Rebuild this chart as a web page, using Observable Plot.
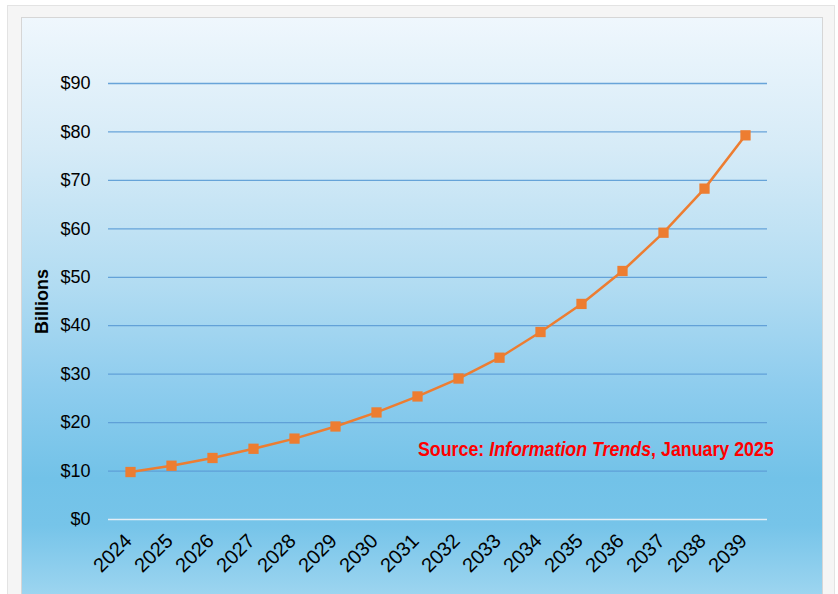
<!DOCTYPE html>
<html>
<head>
<meta charset="utf-8">
<script src="https://cdn.jsdelivr.net/npm/d3@7"></script>
<script src="https://cdn.jsdelivr.net/npm/@observablehq/plot@0.6"></script>
<style>
  html, body { margin: 0; padding: 0; background: #ffffff; }
  #wrap { position: relative; width: 838px; height: 594px; overflow: hidden; font-family: "Liberation Sans", Arial, sans-serif; }
  #frame { position: absolute; left: 7px; top: 5px; width: 826px; height: 600px; background: #f5f5f5; border: 1px solid #e3e3e3; }
  #panel { position: absolute; left: 21px; top: 17px; width: 800px; height: 590px; border: 1px solid #d6d6d6;
    background: linear-gradient(to bottom, #eff7fd 0%, #d6ebf7 22%, #b2dcf2 45%, #8fcdee 62%, #72c2e8 78%, #76c4e9 86%, #a4d8f1 100%); }
  #chart { position: absolute; left: 0; top: 0; }
  #source { position: absolute; left: 418px; top: 438px; white-space: nowrap; color: #ff0000; font-weight: bold;
    font-family: "Liberation Sans", Arial, sans-serif; font-size: 20px; transform: scaleX(0.89); transform-origin: left top; }
</style>
</head>
<body>
<div id="wrap">
  <div id="frame"></div>
  <div id="panel"></div>
  <div id="chart"></div>
  <div id="source">Source: <i>Information Trends</i>, January 2025</div>
</div>
<script>
const years = ["2024","2025","2026","2027","2028","2029","2030","2031","2032","2033","2034","2035","2036","2037","2038","2039"];
const values = [9.8, 11.1, 12.7, 14.6, 16.7, 19.2, 22.1, 25.4, 29.1, 33.4, 38.7, 44.5, 51.3, 59.2, 68.3, 79.3];
const yTicks = [0, 10, 20, 30, 40, 50, 60, 70, 80, 90];
const yLabel = "Billions";

const data = years.map((y, i) => ({year: y, value: values[i]}));

const plot = Plot.plot({
  width: 838,
  height: 594,
  marginLeft: 108,
  marginRight: 71,
  marginTop: 83,
  marginBottom: 75,
  style: { background: "transparent", fontFamily: "Liberation Sans, Arial, sans-serif", color: "#000" },
  x: { type: "point", domain: years, padding: 0.5 },
  y: { domain: [0, 90], ticks: yTicks },
  marks: [
    Plot.ruleY(yTicks.filter(d => d > 0), { stroke: "#5b9bd5", strokeWidth: 1.3, strokeOpacity: 0.9 }),
    Plot.ruleY([0], { stroke: "#e4eef6", strokeWidth: 1.3 }),
    Plot.axisY({ ticks: yTicks, tickFormat: d => "$" + d, tickSize: 0, tickPadding: 18, fontSize: 18, label: null }),
    Plot.axisX({ tickSize: 0, tickRotate: -45, fontSize: 20, tickPadding: 18, dx: -2, label: null }),
    Plot.text([yLabel], { frameAnchor: "left", textAnchor: "middle", dx: -66, rotate: -90, fontWeight: "bold", fontSize: 18 }),
    Plot.line(data, { x: "year", y: "value", stroke: "#ed7d31", strokeWidth: 2.5 }),
    Plot.dot(data, { x: "year", y: "value", symbol: "square", r: 5.8, fill: "#ed7d31", stroke: "none" })
  ]
});
document.getElementById("chart").appendChild(plot);
</script>
</body>
</html>
